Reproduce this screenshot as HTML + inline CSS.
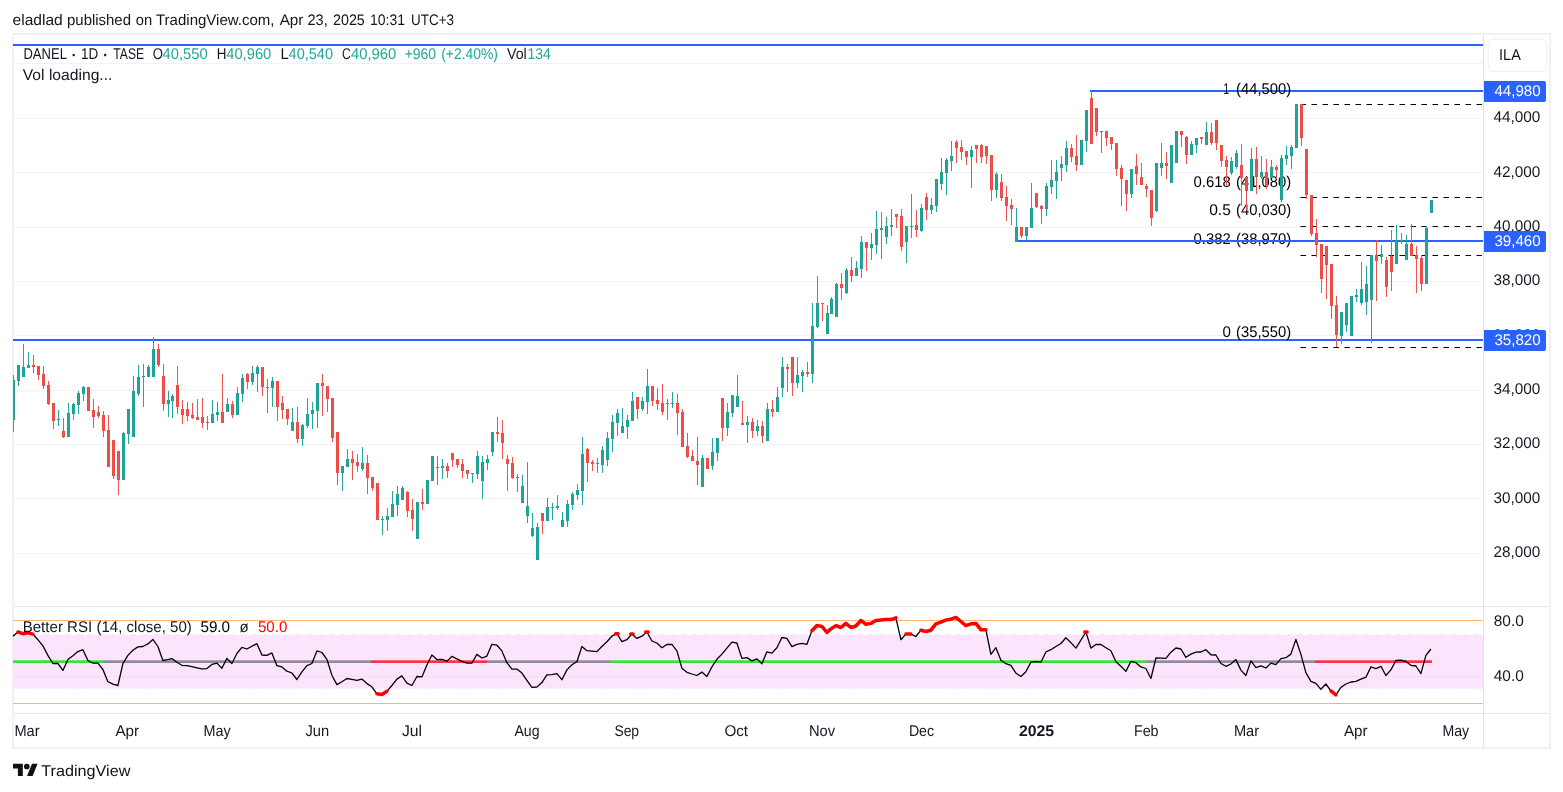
<!DOCTYPE html>
<html lang="en"><head><meta charset="utf-8"><title>DANEL chart</title>
<style>html,body{margin:0;padding:0;background:#fff}
body{width:1563px;height:792px;position:relative;overflow:hidden;font-family:"Liberation Sans", sans-serif}
svg{position:absolute;left:0;top:0}
text{font-family:"Liberation Sans", sans-serif;white-space:pre;text-rendering:geometricPrecision}</style></head><body>
<svg width="1563" height="792" viewBox="0 0 1563 792">
<g shape-rendering="crispEdges">
<rect x="1483" y="34" width="1" height="713" fill="#e1e3ea"/>
<rect x="13" y="606" width="1537" height="1" fill="#e1e3ea"/>
<rect x="13" y="713" width="1537" height="1" fill="#e1e3ea"/>
<rect x="12" y="33" width="1539" height="2" fill="#f0f1f3"/>
<rect x="12" y="747" width="1539" height="2" fill="#f0f1f3"/>
<rect x="12" y="33" width="2" height="716" fill="#f0f1f3"/>
<rect x="1549" y="33" width="2" height="716" fill="#f0f1f3"/>
<rect x="13" y="553" width="1470" height="1" fill="#f1f2f4"/>
<rect x="13" y="498" width="1470" height="1" fill="#f1f2f4"/>
<rect x="13" y="444" width="1470" height="1" fill="#f1f2f4"/>
<rect x="13" y="390" width="1470" height="1" fill="#f1f2f4"/>
<rect x="13" y="335" width="1470" height="1" fill="#f1f2f4"/>
<rect x="13" y="281" width="1470" height="1" fill="#f1f2f4"/>
<rect x="13" y="227" width="1470" height="1" fill="#f1f2f4"/>
<rect x="13" y="172" width="1470" height="1" fill="#f1f2f4"/>
<rect x="13" y="118" width="1470" height="1" fill="#f1f2f4"/>
<rect x="13" y="63" width="1470" height="1" fill="#f1f2f4"/>
<rect x="13" y="44" width="1470" height="2" fill="#2962ff"/>
<rect x="1090" y="90" width="393" height="2" fill="#2962ff"/>
<rect x="13" y="339" width="1470" height="2" fill="#2962ff"/>
</g>
<text x="1223.40" y="93.90" font-size="15.5" textLength="5.60" lengthAdjust="spacingAndGlyphs" fill="#000">1</text><text x="1236.10" y="93.90" font-size="15.5" textLength="55.10" lengthAdjust="spacingAndGlyphs" fill="#000">(44,500)</text><text x="1193.50" y="186.50" font-size="15.5" textLength="37.30" lengthAdjust="spacingAndGlyphs" fill="#000">0.618</text><text x="1236.10" y="186.50" font-size="15.5" textLength="55.10" lengthAdjust="spacingAndGlyphs" fill="#000">(41,080)</text><text x="1209.20" y="214.70" font-size="15.5" textLength="21.60" lengthAdjust="spacingAndGlyphs" fill="#000">0.5</text><text x="1236.10" y="214.70" font-size="15.5" textLength="55.10" lengthAdjust="spacingAndGlyphs" fill="#000">(40,030)</text><text x="1193.50" y="243.50" font-size="15.5" textLength="37.30" lengthAdjust="spacingAndGlyphs" fill="#000">0.382</text><text x="1236.10" y="243.50" font-size="15.5" textLength="55.10" lengthAdjust="spacingAndGlyphs" fill="#000">(38,970)</text><text x="1222.40" y="336.90" font-size="15.5" textLength="8.40" lengthAdjust="spacingAndGlyphs" fill="#000">0</text><text x="1236.10" y="336.90" font-size="15.5" textLength="55.10" lengthAdjust="spacingAndGlyphs" fill="#000">(35,550)</text>
<line x1="1300.5" y1="104.5" x2="1483" y2="104.5" stroke="#000" stroke-width="1" stroke-dasharray="5.5 5.5"/>
<line x1="1300.5" y1="197.5" x2="1483" y2="197.5" stroke="#000" stroke-width="1" stroke-dasharray="5.5 5.5"/>
<line x1="1300.5" y1="226.5" x2="1483" y2="226.5" stroke="#000" stroke-width="1" stroke-dasharray="5.5 5.5"/>
<line x1="1300.5" y1="255.5" x2="1483" y2="255.5" stroke="#000" stroke-width="1" stroke-dasharray="5.5 5.5"/>
<line x1="1300.5" y1="347.5" x2="1483" y2="347.5" stroke="#000" stroke-width="1" stroke-dasharray="5.5 5.5"/>
<g shape-rendering="crispEdges">
<rect x="1016" y="240" width="467" height="2" fill="#2962ff"/>
</g>
<g shape-rendering="crispEdges">
<clipPath id="cp"><rect x="13" y="34" width="1470" height="572"/></clipPath><g clip-path="url(#cp)">
<rect x="12" y="380" width="3" height="40" fill="#1ba093"/>
<rect x="13" y="375" width="1" height="57" fill="#26a69a"/>
<rect x="17" y="365" width="3" height="16" fill="#1ba093"/>
<rect x="18" y="365" width="1" height="21" fill="#26a69a"/>
<rect x="22" y="367" width="3" height="10" fill="#1ba093"/>
<rect x="23" y="344" width="1" height="33" fill="#26a69a"/>
<rect x="27" y="365" width="3" height="3" fill="#1ba093"/>
<rect x="28" y="352" width="1" height="16" fill="#26a69a"/>
<rect x="32" y="365" width="3" height="2" fill="#ec4844"/>
<rect x="33" y="355" width="1" height="18" fill="#ef5350"/>
<rect x="37" y="366" width="3" height="9" fill="#ec4844"/>
<rect x="38" y="366" width="1" height="14" fill="#ef5350"/>
<rect x="42" y="374" width="3" height="12" fill="#ec4844"/>
<rect x="43" y="366" width="1" height="23" fill="#ef5350"/>
<rect x="47" y="385" width="3" height="19" fill="#ec4844"/>
<rect x="48" y="381" width="1" height="24" fill="#ef5350"/>
<rect x="52" y="403" width="3" height="18" fill="#ec4844"/>
<rect x="53" y="403" width="1" height="26" fill="#ef5350"/>
<rect x="57" y="419" width="3" height="1" fill="#1ba093"/>
<rect x="58" y="410" width="1" height="16" fill="#26a69a"/>
<rect x="62" y="431" width="3" height="6" fill="#ec4844"/>
<rect x="63" y="418" width="1" height="20" fill="#ef5350"/>
<rect x="67" y="413" width="3" height="24" fill="#1ba093"/>
<rect x="68" y="403" width="1" height="34" fill="#26a69a"/>
<rect x="72" y="404" width="3" height="10" fill="#1ba093"/>
<rect x="73" y="403" width="1" height="17" fill="#26a69a"/>
<rect x="77" y="393" width="3" height="12" fill="#1ba093"/>
<rect x="78" y="391" width="1" height="23" fill="#26a69a"/>
<rect x="82" y="387" width="3" height="7" fill="#1ba093"/>
<rect x="83" y="386" width="1" height="15" fill="#26a69a"/>
<rect x="87" y="387" width="3" height="24" fill="#ec4844"/>
<rect x="88" y="387" width="1" height="24" fill="#ef5350"/>
<rect x="92" y="410" width="3" height="7" fill="#ec4844"/>
<rect x="93" y="399" width="1" height="29" fill="#ef5350"/>
<rect x="97" y="412" width="3" height="4" fill="#ec4844"/>
<rect x="98" y="406" width="1" height="12" fill="#ef5350"/>
<rect x="102" y="415" width="3" height="16" fill="#ec4844"/>
<rect x="103" y="411" width="1" height="26" fill="#ef5350"/>
<rect x="107" y="430" width="3" height="37" fill="#ec4844"/>
<rect x="108" y="415" width="1" height="52" fill="#ef5350"/>
<rect x="112" y="440" width="3" height="36" fill="#ec4844"/>
<rect x="113" y="440" width="1" height="39" fill="#ef5350"/>
<rect x="117" y="451" width="3" height="29" fill="#ec4844"/>
<rect x="118" y="451" width="1" height="44" fill="#ef5350"/>
<rect x="122" y="433" width="3" height="47" fill="#1ba093"/>
<rect x="123" y="432" width="1" height="48" fill="#26a69a"/>
<rect x="127" y="409" width="3" height="25" fill="#1ba093"/>
<rect x="128" y="409" width="1" height="35" fill="#26a69a"/>
<rect x="132" y="391" width="3" height="46" fill="#1ba093"/>
<rect x="133" y="376" width="1" height="61" fill="#26a69a"/>
<rect x="137" y="377" width="3" height="17" fill="#1ba093"/>
<rect x="138" y="365" width="1" height="31" fill="#26a69a"/>
<rect x="142" y="376" width="3" height="1" fill="#1ba093"/>
<rect x="143" y="364" width="1" height="43" fill="#26a69a"/>
<rect x="147" y="367" width="3" height="10" fill="#1ba093"/>
<rect x="148" y="365" width="1" height="12" fill="#26a69a"/>
<rect x="152" y="349" width="3" height="28" fill="#1ba093"/>
<rect x="153" y="337" width="1" height="40" fill="#26a69a"/>
<rect x="157" y="349" width="3" height="16" fill="#ec4844"/>
<rect x="158" y="344" width="1" height="23" fill="#ef5350"/>
<rect x="162" y="376" width="3" height="28" fill="#ec4844"/>
<rect x="163" y="364" width="1" height="47" fill="#ef5350"/>
<rect x="167" y="400" width="3" height="4" fill="#1ba093"/>
<rect x="168" y="391" width="1" height="26" fill="#26a69a"/>
<rect x="171" y="396" width="3" height="5" fill="#1ba093"/>
<rect x="172" y="394" width="1" height="24" fill="#26a69a"/>
<rect x="176" y="385" width="3" height="22" fill="#ec4844"/>
<rect x="177" y="366" width="1" height="48" fill="#ef5350"/>
<rect x="181" y="409" width="3" height="6" fill="#ec4844"/>
<rect x="182" y="400" width="1" height="24" fill="#ef5350"/>
<rect x="186" y="409" width="3" height="7" fill="#ec4844"/>
<rect x="187" y="402" width="1" height="19" fill="#ef5350"/>
<rect x="191" y="415" width="3" height="3" fill="#ec4844"/>
<rect x="192" y="403" width="1" height="16" fill="#ef5350"/>
<rect x="196" y="417" width="3" height="3" fill="#ec4844"/>
<rect x="197" y="399" width="1" height="21" fill="#ef5350"/>
<rect x="201" y="417" width="3" height="6" fill="#ec4844"/>
<rect x="202" y="398" width="1" height="30" fill="#ef5350"/>
<rect x="206" y="422" width="3" height="1" fill="#ec4844"/>
<rect x="207" y="416" width="1" height="14" fill="#ef5350"/>
<rect x="211" y="414" width="3" height="9" fill="#1ba093"/>
<rect x="212" y="400" width="1" height="23" fill="#26a69a"/>
<rect x="216" y="412" width="3" height="3" fill="#1ba093"/>
<rect x="217" y="402" width="1" height="19" fill="#26a69a"/>
<rect x="221" y="412" width="3" height="11" fill="#ec4844"/>
<rect x="222" y="374" width="1" height="49" fill="#ef5350"/>
<rect x="226" y="404" width="3" height="8" fill="#1ba093"/>
<rect x="227" y="398" width="1" height="14" fill="#26a69a"/>
<rect x="231" y="404" width="3" height="11" fill="#ec4844"/>
<rect x="232" y="401" width="1" height="17" fill="#ef5350"/>
<rect x="236" y="393" width="3" height="22" fill="#1ba093"/>
<rect x="237" y="387" width="1" height="28" fill="#26a69a"/>
<rect x="241" y="378" width="3" height="16" fill="#1ba093"/>
<rect x="242" y="374" width="1" height="28" fill="#26a69a"/>
<rect x="246" y="374" width="3" height="8" fill="#ec4844"/>
<rect x="247" y="373" width="1" height="16" fill="#ef5350"/>
<rect x="251" y="373" width="3" height="9" fill="#1ba093"/>
<rect x="252" y="366" width="1" height="19" fill="#26a69a"/>
<rect x="256" y="367" width="3" height="7" fill="#1ba093"/>
<rect x="257" y="365" width="1" height="27" fill="#26a69a"/>
<rect x="261" y="367" width="3" height="20" fill="#ec4844"/>
<rect x="262" y="367" width="1" height="29" fill="#ef5350"/>
<rect x="266" y="387" width="3" height="1" fill="#1ba093"/>
<rect x="267" y="379" width="1" height="34" fill="#26a69a"/>
<rect x="271" y="381" width="3" height="7" fill="#1ba093"/>
<rect x="272" y="377" width="1" height="30" fill="#26a69a"/>
<rect x="276" y="381" width="3" height="26" fill="#ec4844"/>
<rect x="277" y="381" width="1" height="40" fill="#ef5350"/>
<rect x="281" y="403" width="3" height="7" fill="#ec4844"/>
<rect x="282" y="396" width="1" height="23" fill="#ef5350"/>
<rect x="286" y="409" width="3" height="10" fill="#ec4844"/>
<rect x="287" y="409" width="1" height="16" fill="#ef5350"/>
<rect x="291" y="422" width="3" height="9" fill="#1ba093"/>
<rect x="292" y="408" width="1" height="23" fill="#26a69a"/>
<rect x="296" y="422" width="3" height="17" fill="#ec4844"/>
<rect x="297" y="407" width="1" height="36" fill="#ef5350"/>
<rect x="301" y="425" width="3" height="14" fill="#1ba093"/>
<rect x="302" y="424" width="1" height="22" fill="#26a69a"/>
<rect x="306" y="414" width="3" height="12" fill="#1ba093"/>
<rect x="307" y="398" width="1" height="30" fill="#26a69a"/>
<rect x="311" y="410" width="3" height="4" fill="#1ba093"/>
<rect x="312" y="402" width="1" height="27" fill="#26a69a"/>
<rect x="316" y="383" width="3" height="28" fill="#1ba093"/>
<rect x="317" y="383" width="1" height="45" fill="#26a69a"/>
<rect x="321" y="383" width="3" height="3" fill="#ec4844"/>
<rect x="322" y="374" width="1" height="42" fill="#ef5350"/>
<rect x="326" y="386" width="3" height="13" fill="#ec4844"/>
<rect x="327" y="386" width="1" height="26" fill="#ef5350"/>
<rect x="331" y="398" width="3" height="40" fill="#ec4844"/>
<rect x="332" y="398" width="1" height="44" fill="#ef5350"/>
<rect x="336" y="432" width="3" height="41" fill="#ec4844"/>
<rect x="337" y="432" width="1" height="53" fill="#ef5350"/>
<rect x="341" y="466" width="3" height="7" fill="#1ba093"/>
<rect x="342" y="466" width="1" height="25" fill="#26a69a"/>
<rect x="346" y="459" width="3" height="8" fill="#1ba093"/>
<rect x="347" y="449" width="1" height="18" fill="#26a69a"/>
<rect x="351" y="459" width="3" height="4" fill="#ec4844"/>
<rect x="352" y="451" width="1" height="29" fill="#ef5350"/>
<rect x="356" y="462" width="3" height="4" fill="#ec4844"/>
<rect x="357" y="454" width="1" height="18" fill="#ef5350"/>
<rect x="361" y="463" width="3" height="6" fill="#1ba093"/>
<rect x="362" y="447" width="1" height="24" fill="#26a69a"/>
<rect x="366" y="463" width="3" height="15" fill="#ec4844"/>
<rect x="367" y="455" width="1" height="39" fill="#ef5350"/>
<rect x="371" y="477" width="3" height="11" fill="#ec4844"/>
<rect x="372" y="477" width="1" height="14" fill="#ef5350"/>
<rect x="376" y="483" width="3" height="37" fill="#ec4844"/>
<rect x="377" y="483" width="1" height="37" fill="#ef5350"/>
<rect x="381" y="519" width="3" height="1" fill="#1ba093"/>
<rect x="382" y="516" width="1" height="19" fill="#26a69a"/>
<rect x="386" y="516" width="3" height="4" fill="#1ba093"/>
<rect x="387" y="508" width="1" height="23" fill="#26a69a"/>
<rect x="391" y="504" width="3" height="13" fill="#1ba093"/>
<rect x="392" y="491" width="1" height="26" fill="#26a69a"/>
<rect x="396" y="494" width="3" height="11" fill="#1ba093"/>
<rect x="397" y="486" width="1" height="30" fill="#26a69a"/>
<rect x="401" y="488" width="3" height="12" fill="#1ba093"/>
<rect x="402" y="486" width="1" height="14" fill="#26a69a"/>
<rect x="406" y="492" width="3" height="19" fill="#ec4844"/>
<rect x="407" y="491" width="1" height="26" fill="#ef5350"/>
<rect x="411" y="510" width="3" height="9" fill="#ec4844"/>
<rect x="412" y="499" width="1" height="32" fill="#ef5350"/>
<rect x="416" y="502" width="3" height="37" fill="#1ba093"/>
<rect x="417" y="502" width="1" height="37" fill="#26a69a"/>
<rect x="421" y="502" width="3" height="2" fill="#ec4844"/>
<rect x="422" y="489" width="1" height="21" fill="#ef5350"/>
<rect x="426" y="480" width="3" height="24" fill="#1ba093"/>
<rect x="427" y="480" width="1" height="24" fill="#26a69a"/>
<rect x="431" y="456" width="3" height="25" fill="#1ba093"/>
<rect x="432" y="456" width="1" height="25" fill="#26a69a"/>
<rect x="436" y="467" width="3" height="1" fill="#1ba093"/>
<rect x="437" y="456" width="1" height="29" fill="#26a69a"/>
<rect x="441" y="466" width="3" height="2" fill="#1ba093"/>
<rect x="442" y="459" width="1" height="20" fill="#26a69a"/>
<rect x="446" y="466" width="3" height="5" fill="#ec4844"/>
<rect x="447" y="463" width="1" height="15" fill="#ef5350"/>
<rect x="451" y="453" width="3" height="7" fill="#ec4844"/>
<rect x="452" y="453" width="1" height="14" fill="#ef5350"/>
<rect x="456" y="459" width="3" height="6" fill="#ec4844"/>
<rect x="457" y="459" width="1" height="9" fill="#ef5350"/>
<rect x="461" y="464" width="3" height="7" fill="#ec4844"/>
<rect x="462" y="459" width="1" height="19" fill="#ef5350"/>
<rect x="466" y="470" width="3" height="4" fill="#ec4844"/>
<rect x="467" y="470" width="1" height="9" fill="#ef5350"/>
<rect x="471" y="473" width="3" height="1" fill="#1ba093"/>
<rect x="472" y="473" width="1" height="10" fill="#26a69a"/>
<rect x="476" y="456" width="3" height="18" fill="#1ba093"/>
<rect x="477" y="451" width="1" height="28" fill="#26a69a"/>
<rect x="481" y="462" width="3" height="19" fill="#1ba093"/>
<rect x="482" y="456" width="1" height="43" fill="#26a69a"/>
<rect x="486" y="459" width="3" height="4" fill="#1ba093"/>
<rect x="487" y="455" width="1" height="15" fill="#26a69a"/>
<rect x="491" y="432" width="3" height="20" fill="#1ba093"/>
<rect x="492" y="432" width="1" height="24" fill="#26a69a"/>
<rect x="496" y="432" width="3" height="2" fill="#ec4844"/>
<rect x="497" y="417" width="1" height="25" fill="#ef5350"/>
<rect x="501" y="433" width="3" height="10" fill="#ec4844"/>
<rect x="502" y="420" width="1" height="39" fill="#ef5350"/>
<rect x="506" y="459" width="3" height="5" fill="#ec4844"/>
<rect x="507" y="455" width="1" height="36" fill="#ef5350"/>
<rect x="511" y="463" width="3" height="15" fill="#ec4844"/>
<rect x="512" y="457" width="1" height="22" fill="#ef5350"/>
<rect x="516" y="477" width="3" height="1" fill="#1ba093"/>
<rect x="517" y="474" width="1" height="18" fill="#26a69a"/>
<rect x="521" y="486" width="3" height="17" fill="#1ba093"/>
<rect x="522" y="475" width="1" height="28" fill="#26a69a"/>
<rect x="526" y="506" width="3" height="10" fill="#1ba093"/>
<rect x="527" y="462" width="1" height="61" fill="#26a69a"/>
<rect x="531" y="528" width="3" height="8" fill="#1ba093"/>
<rect x="532" y="513" width="1" height="24" fill="#26a69a"/>
<rect x="536" y="527" width="3" height="33" fill="#1ba093"/>
<rect x="537" y="523" width="1" height="37" fill="#26a69a"/>
<rect x="541" y="513" width="3" height="8" fill="#ec4844"/>
<rect x="542" y="513" width="1" height="21" fill="#ef5350"/>
<rect x="546" y="507" width="3" height="14" fill="#1ba093"/>
<rect x="547" y="498" width="1" height="23" fill="#26a69a"/>
<rect x="551" y="507" width="3" height="1" fill="#1ba093"/>
<rect x="552" y="503" width="1" height="17" fill="#26a69a"/>
<rect x="556" y="506" width="3" height="2" fill="#1ba093"/>
<rect x="557" y="495" width="1" height="15" fill="#26a69a"/>
<rect x="561" y="520" width="3" height="7" fill="#1ba093"/>
<rect x="562" y="512" width="1" height="15" fill="#26a69a"/>
<rect x="566" y="504" width="3" height="17" fill="#1ba093"/>
<rect x="567" y="500" width="1" height="27" fill="#26a69a"/>
<rect x="571" y="494" width="3" height="11" fill="#1ba093"/>
<rect x="572" y="492" width="1" height="18" fill="#26a69a"/>
<rect x="576" y="490" width="3" height="5" fill="#1ba093"/>
<rect x="577" y="484" width="1" height="16" fill="#26a69a"/>
<rect x="581" y="454" width="3" height="37" fill="#1ba093"/>
<rect x="582" y="437" width="1" height="68" fill="#26a69a"/>
<rect x="586" y="449" width="3" height="14" fill="#ec4844"/>
<rect x="587" y="448" width="1" height="34" fill="#ef5350"/>
<rect x="591" y="462" width="3" height="2" fill="#ec4844"/>
<rect x="592" y="460" width="1" height="11" fill="#ef5350"/>
<rect x="596" y="463" width="3" height="1" fill="#1ba093"/>
<rect x="597" y="458" width="1" height="15" fill="#26a69a"/>
<rect x="601" y="450" width="3" height="15" fill="#1ba093"/>
<rect x="602" y="446" width="1" height="27" fill="#26a69a"/>
<rect x="606" y="438" width="3" height="22" fill="#1ba093"/>
<rect x="607" y="432" width="1" height="34" fill="#26a69a"/>
<rect x="611" y="422" width="3" height="17" fill="#1ba093"/>
<rect x="612" y="415" width="1" height="37" fill="#26a69a"/>
<rect x="616" y="413" width="3" height="10" fill="#1ba093"/>
<rect x="617" y="409" width="1" height="27" fill="#26a69a"/>
<rect x="621" y="426" width="3" height="7" fill="#1ba093"/>
<rect x="622" y="408" width="1" height="25" fill="#26a69a"/>
<rect x="626" y="420" width="3" height="7" fill="#1ba093"/>
<rect x="627" y="415" width="1" height="24" fill="#26a69a"/>
<rect x="631" y="401" width="3" height="20" fill="#1ba093"/>
<rect x="632" y="392" width="1" height="29" fill="#26a69a"/>
<rect x="636" y="397" width="3" height="12" fill="#ec4844"/>
<rect x="637" y="397" width="1" height="22" fill="#ef5350"/>
<rect x="641" y="401" width="3" height="8" fill="#1ba093"/>
<rect x="642" y="397" width="1" height="14" fill="#26a69a"/>
<rect x="646" y="386" width="3" height="16" fill="#1ba093"/>
<rect x="647" y="369" width="1" height="45" fill="#26a69a"/>
<rect x="651" y="386" width="3" height="15" fill="#ec4844"/>
<rect x="652" y="386" width="1" height="20" fill="#ef5350"/>
<rect x="656" y="400" width="3" height="4" fill="#ec4844"/>
<rect x="657" y="388" width="1" height="22" fill="#ef5350"/>
<rect x="661" y="403" width="3" height="9" fill="#ec4844"/>
<rect x="662" y="384" width="1" height="31" fill="#ef5350"/>
<rect x="666" y="403" width="3" height="1" fill="#ec4844"/>
<rect x="667" y="399" width="1" height="21" fill="#ef5350"/>
<rect x="671" y="403" width="3" height="1" fill="#1ba093"/>
<rect x="672" y="392" width="1" height="16" fill="#26a69a"/>
<rect x="676" y="403" width="3" height="10" fill="#ec4844"/>
<rect x="677" y="394" width="1" height="41" fill="#ef5350"/>
<rect x="681" y="412" width="3" height="35" fill="#ec4844"/>
<rect x="682" y="409" width="1" height="38" fill="#ef5350"/>
<rect x="686" y="446" width="3" height="11" fill="#ec4844"/>
<rect x="687" y="433" width="1" height="25" fill="#ef5350"/>
<rect x="691" y="456" width="3" height="5" fill="#ec4844"/>
<rect x="692" y="450" width="1" height="11" fill="#ef5350"/>
<rect x="696" y="461" width="3" height="4" fill="#ec4844"/>
<rect x="697" y="437" width="1" height="48" fill="#ef5350"/>
<rect x="701" y="458" width="3" height="29" fill="#1ba093"/>
<rect x="702" y="455" width="1" height="32" fill="#26a69a"/>
<rect x="706" y="458" width="3" height="11" fill="#ec4844"/>
<rect x="707" y="458" width="1" height="11" fill="#ef5350"/>
<rect x="711" y="452" width="3" height="14" fill="#1ba093"/>
<rect x="712" y="438" width="1" height="32" fill="#26a69a"/>
<rect x="716" y="438" width="3" height="15" fill="#1ba093"/>
<rect x="717" y="438" width="1" height="23" fill="#26a69a"/>
<rect x="721" y="398" width="3" height="30" fill="#ec4844"/>
<rect x="722" y="398" width="1" height="43" fill="#ef5350"/>
<rect x="726" y="412" width="3" height="16" fill="#1ba093"/>
<rect x="727" y="403" width="1" height="33" fill="#26a69a"/>
<rect x="731" y="395" width="3" height="18" fill="#1ba093"/>
<rect x="732" y="395" width="1" height="22" fill="#26a69a"/>
<rect x="736" y="396" width="3" height="11" fill="#1ba093"/>
<rect x="737" y="375" width="1" height="32" fill="#26a69a"/>
<rect x="741" y="423" width="3" height="2" fill="#ec4844"/>
<rect x="742" y="401" width="1" height="24" fill="#ef5350"/>
<rect x="746" y="422" width="3" height="3" fill="#1ba093"/>
<rect x="747" y="416" width="1" height="27" fill="#26a69a"/>
<rect x="751" y="422" width="3" height="9" fill="#ec4844"/>
<rect x="752" y="418" width="1" height="20" fill="#ef5350"/>
<rect x="756" y="426" width="3" height="5" fill="#1ba093"/>
<rect x="757" y="420" width="1" height="16" fill="#26a69a"/>
<rect x="761" y="426" width="3" height="10" fill="#ec4844"/>
<rect x="762" y="421" width="1" height="22" fill="#ef5350"/>
<rect x="766" y="409" width="3" height="32" fill="#1ba093"/>
<rect x="767" y="403" width="1" height="38" fill="#26a69a"/>
<rect x="771" y="409" width="3" height="3" fill="#ec4844"/>
<rect x="772" y="400" width="1" height="17" fill="#ef5350"/>
<rect x="776" y="397" width="3" height="15" fill="#1ba093"/>
<rect x="777" y="387" width="1" height="25" fill="#26a69a"/>
<rect x="781" y="367" width="3" height="21" fill="#1ba093"/>
<rect x="782" y="357" width="1" height="40" fill="#26a69a"/>
<rect x="786" y="367" width="3" height="2" fill="#ec4844"/>
<rect x="787" y="364" width="1" height="28" fill="#ef5350"/>
<rect x="791" y="357" width="3" height="26" fill="#ec4844"/>
<rect x="792" y="357" width="1" height="39" fill="#ef5350"/>
<rect x="796" y="375" width="3" height="8" fill="#1ba093"/>
<rect x="797" y="357" width="1" height="31" fill="#26a69a"/>
<rect x="801" y="372" width="3" height="4" fill="#1ba093"/>
<rect x="802" y="370" width="1" height="22" fill="#26a69a"/>
<rect x="806" y="372" width="3" height="2" fill="#ec4844"/>
<rect x="807" y="362" width="1" height="15" fill="#ef5350"/>
<rect x="811" y="326" width="3" height="48" fill="#1ba093"/>
<rect x="812" y="303" width="1" height="80" fill="#26a69a"/>
<rect x="816" y="303" width="3" height="24" fill="#1ba093"/>
<rect x="817" y="276" width="1" height="52" fill="#26a69a"/>
<rect x="821" y="303" width="3" height="1" fill="#ec4844"/>
<rect x="822" y="303" width="1" height="18" fill="#ef5350"/>
<rect x="826" y="313" width="3" height="21" fill="#1ba093"/>
<rect x="827" y="305" width="1" height="29" fill="#26a69a"/>
<rect x="830" y="299" width="3" height="15" fill="#1ba093"/>
<rect x="831" y="297" width="1" height="17" fill="#26a69a"/>
<rect x="835" y="284" width="3" height="33" fill="#1ba093"/>
<rect x="836" y="283" width="1" height="34" fill="#26a69a"/>
<rect x="840" y="284" width="3" height="4" fill="#ec4844"/>
<rect x="841" y="273" width="1" height="27" fill="#ef5350"/>
<rect x="845" y="270" width="3" height="23" fill="#1ba093"/>
<rect x="846" y="268" width="1" height="26" fill="#26a69a"/>
<rect x="850" y="270" width="3" height="6" fill="#ec4844"/>
<rect x="851" y="257" width="1" height="25" fill="#ef5350"/>
<rect x="855" y="268" width="3" height="8" fill="#1ba093"/>
<rect x="856" y="261" width="1" height="15" fill="#26a69a"/>
<rect x="860" y="242" width="3" height="27" fill="#1ba093"/>
<rect x="861" y="236" width="1" height="42" fill="#26a69a"/>
<rect x="865" y="242" width="3" height="6" fill="#ec4844"/>
<rect x="866" y="242" width="1" height="29" fill="#ef5350"/>
<rect x="870" y="244" width="3" height="4" fill="#1ba093"/>
<rect x="871" y="233" width="1" height="27" fill="#26a69a"/>
<rect x="875" y="229" width="3" height="16" fill="#1ba093"/>
<rect x="876" y="211" width="1" height="43" fill="#26a69a"/>
<rect x="880" y="228" width="3" height="2" fill="#1ba093"/>
<rect x="881" y="212" width="1" height="47" fill="#26a69a"/>
<rect x="885" y="226" width="3" height="11" fill="#1ba093"/>
<rect x="886" y="217" width="1" height="27" fill="#26a69a"/>
<rect x="890" y="225" width="3" height="2" fill="#1ba093"/>
<rect x="891" y="209" width="1" height="27" fill="#26a69a"/>
<rect x="895" y="214" width="3" height="3" fill="#ec4844"/>
<rect x="896" y="214" width="1" height="14" fill="#ef5350"/>
<rect x="900" y="216" width="3" height="31" fill="#ec4844"/>
<rect x="901" y="209" width="1" height="42" fill="#ef5350"/>
<rect x="905" y="226" width="3" height="16" fill="#1ba093"/>
<rect x="906" y="226" width="1" height="37" fill="#26a69a"/>
<rect x="910" y="226" width="3" height="1" fill="#1ba093"/>
<rect x="911" y="194" width="1" height="44" fill="#26a69a"/>
<rect x="915" y="225" width="3" height="5" fill="#ec4844"/>
<rect x="916" y="210" width="1" height="27" fill="#ef5350"/>
<rect x="920" y="208" width="3" height="23" fill="#1ba093"/>
<rect x="921" y="204" width="1" height="28" fill="#26a69a"/>
<rect x="925" y="197" width="3" height="13" fill="#ec4844"/>
<rect x="926" y="193" width="1" height="27" fill="#ef5350"/>
<rect x="930" y="205" width="3" height="5" fill="#1ba093"/>
<rect x="931" y="198" width="1" height="16" fill="#26a69a"/>
<rect x="935" y="179" width="3" height="27" fill="#1ba093"/>
<rect x="936" y="179" width="1" height="33" fill="#26a69a"/>
<rect x="940" y="172" width="3" height="12" fill="#1ba093"/>
<rect x="941" y="158" width="1" height="32" fill="#26a69a"/>
<rect x="945" y="160" width="3" height="13" fill="#1ba093"/>
<rect x="946" y="158" width="1" height="37" fill="#26a69a"/>
<rect x="950" y="156" width="3" height="5" fill="#1ba093"/>
<rect x="951" y="141" width="1" height="30" fill="#26a69a"/>
<rect x="955" y="142" width="3" height="6" fill="#ec4844"/>
<rect x="956" y="140" width="1" height="23" fill="#ef5350"/>
<rect x="960" y="147" width="3" height="5" fill="#ec4844"/>
<rect x="961" y="140" width="1" height="20" fill="#ef5350"/>
<rect x="965" y="151" width="3" height="6" fill="#ec4844"/>
<rect x="966" y="151" width="1" height="14" fill="#ef5350"/>
<rect x="970" y="150" width="3" height="7" fill="#1ba093"/>
<rect x="971" y="146" width="1" height="42" fill="#26a69a"/>
<rect x="975" y="145" width="3" height="4" fill="#ec4844"/>
<rect x="976" y="145" width="1" height="18" fill="#ef5350"/>
<rect x="980" y="145" width="3" height="12" fill="#ec4844"/>
<rect x="981" y="144" width="1" height="19" fill="#ef5350"/>
<rect x="985" y="146" width="3" height="10" fill="#ec4844"/>
<rect x="986" y="146" width="1" height="18" fill="#ef5350"/>
<rect x="990" y="155" width="3" height="35" fill="#ec4844"/>
<rect x="991" y="155" width="1" height="46" fill="#ef5350"/>
<rect x="995" y="174" width="3" height="16" fill="#1ba093"/>
<rect x="996" y="172" width="1" height="26" fill="#26a69a"/>
<rect x="1000" y="182" width="3" height="16" fill="#ec4844"/>
<rect x="1001" y="174" width="1" height="27" fill="#ef5350"/>
<rect x="1005" y="197" width="3" height="9" fill="#ec4844"/>
<rect x="1006" y="186" width="1" height="35" fill="#ef5350"/>
<rect x="1010" y="205" width="3" height="4" fill="#ec4844"/>
<rect x="1011" y="199" width="1" height="26" fill="#ef5350"/>
<rect x="1015" y="227" width="3" height="15" fill="#1ba093"/>
<rect x="1016" y="208" width="1" height="34" fill="#26a69a"/>
<rect x="1020" y="227" width="3" height="9" fill="#ec4844"/>
<rect x="1021" y="227" width="1" height="11" fill="#ef5350"/>
<rect x="1025" y="227" width="3" height="9" fill="#1ba093"/>
<rect x="1026" y="227" width="1" height="14" fill="#26a69a"/>
<rect x="1030" y="208" width="3" height="20" fill="#1ba093"/>
<rect x="1031" y="183" width="1" height="45" fill="#26a69a"/>
<rect x="1035" y="193" width="3" height="14" fill="#ec4844"/>
<rect x="1036" y="193" width="1" height="15" fill="#ef5350"/>
<rect x="1040" y="206" width="3" height="3" fill="#ec4844"/>
<rect x="1041" y="205" width="1" height="19" fill="#ef5350"/>
<rect x="1045" y="186" width="3" height="23" fill="#1ba093"/>
<rect x="1046" y="183" width="1" height="33" fill="#26a69a"/>
<rect x="1050" y="180" width="3" height="7" fill="#1ba093"/>
<rect x="1051" y="160" width="1" height="34" fill="#26a69a"/>
<rect x="1055" y="172" width="3" height="9" fill="#1ba093"/>
<rect x="1056" y="160" width="1" height="39" fill="#26a69a"/>
<rect x="1060" y="164" width="3" height="4" fill="#1ba093"/>
<rect x="1061" y="156" width="1" height="25" fill="#26a69a"/>
<rect x="1065" y="148" width="3" height="17" fill="#1ba093"/>
<rect x="1066" y="141" width="1" height="31" fill="#26a69a"/>
<rect x="1070" y="148" width="3" height="9" fill="#ec4844"/>
<rect x="1071" y="144" width="1" height="18" fill="#ef5350"/>
<rect x="1075" y="156" width="3" height="9" fill="#ec4844"/>
<rect x="1076" y="135" width="1" height="36" fill="#ef5350"/>
<rect x="1080" y="140" width="3" height="25" fill="#1ba093"/>
<rect x="1081" y="140" width="1" height="25" fill="#26a69a"/>
<rect x="1085" y="110" width="3" height="31" fill="#1ba093"/>
<rect x="1086" y="110" width="1" height="42" fill="#26a69a"/>
<rect x="1090" y="98" width="3" height="46" fill="#ec4844"/>
<rect x="1091" y="90" width="1" height="54" fill="#ef5350"/>
<rect x="1095" y="108" width="3" height="24" fill="#ec4844"/>
<rect x="1096" y="108" width="1" height="28" fill="#ef5350"/>
<rect x="1100" y="131" width="3" height="1" fill="#1ba093"/>
<rect x="1101" y="131" width="1" height="22" fill="#26a69a"/>
<rect x="1105" y="131" width="3" height="7" fill="#ec4844"/>
<rect x="1106" y="131" width="1" height="15" fill="#ef5350"/>
<rect x="1110" y="137" width="3" height="7" fill="#ec4844"/>
<rect x="1111" y="137" width="1" height="13" fill="#ef5350"/>
<rect x="1115" y="143" width="3" height="26" fill="#ec4844"/>
<rect x="1116" y="143" width="1" height="33" fill="#ef5350"/>
<rect x="1120" y="168" width="3" height="11" fill="#ec4844"/>
<rect x="1121" y="165" width="1" height="41" fill="#ef5350"/>
<rect x="1125" y="180" width="3" height="14" fill="#ec4844"/>
<rect x="1126" y="180" width="1" height="31" fill="#ef5350"/>
<rect x="1130" y="169" width="3" height="25" fill="#1ba093"/>
<rect x="1131" y="169" width="1" height="29" fill="#26a69a"/>
<rect x="1135" y="166" width="3" height="8" fill="#ec4844"/>
<rect x="1136" y="154" width="1" height="31" fill="#ef5350"/>
<rect x="1140" y="177" width="3" height="8" fill="#ec4844"/>
<rect x="1141" y="163" width="1" height="22" fill="#ef5350"/>
<rect x="1145" y="186" width="3" height="3" fill="#ec4844"/>
<rect x="1146" y="184" width="1" height="13" fill="#ef5350"/>
<rect x="1150" y="190" width="3" height="28" fill="#ec4844"/>
<rect x="1151" y="190" width="1" height="36" fill="#ef5350"/>
<rect x="1155" y="163" width="3" height="48" fill="#1ba093"/>
<rect x="1156" y="163" width="1" height="49" fill="#26a69a"/>
<rect x="1160" y="163" width="3" height="5" fill="#1ba093"/>
<rect x="1161" y="143" width="1" height="33" fill="#26a69a"/>
<rect x="1165" y="163" width="3" height="3" fill="#ec4844"/>
<rect x="1166" y="152" width="1" height="27" fill="#ef5350"/>
<rect x="1170" y="145" width="3" height="38" fill="#1ba093"/>
<rect x="1171" y="145" width="1" height="38" fill="#26a69a"/>
<rect x="1175" y="131" width="3" height="32" fill="#1ba093"/>
<rect x="1176" y="131" width="1" height="32" fill="#26a69a"/>
<rect x="1180" y="131" width="3" height="4" fill="#ec4844"/>
<rect x="1181" y="131" width="1" height="16" fill="#ef5350"/>
<rect x="1185" y="137" width="3" height="18" fill="#ec4844"/>
<rect x="1186" y="136" width="1" height="28" fill="#ef5350"/>
<rect x="1190" y="144" width="3" height="11" fill="#1ba093"/>
<rect x="1191" y="141" width="1" height="14" fill="#26a69a"/>
<rect x="1195" y="138" width="3" height="7" fill="#1ba093"/>
<rect x="1196" y="138" width="1" height="15" fill="#26a69a"/>
<rect x="1200" y="137" width="3" height="2" fill="#ec4844"/>
<rect x="1201" y="137" width="1" height="7" fill="#ef5350"/>
<rect x="1205" y="132" width="3" height="13" fill="#1ba093"/>
<rect x="1206" y="122" width="1" height="23" fill="#26a69a"/>
<rect x="1210" y="132" width="3" height="11" fill="#ec4844"/>
<rect x="1211" y="123" width="1" height="22" fill="#ef5350"/>
<rect x="1215" y="120" width="3" height="23" fill="#ec4844"/>
<rect x="1216" y="120" width="1" height="30" fill="#ef5350"/>
<rect x="1220" y="145" width="3" height="16" fill="#ec4844"/>
<rect x="1221" y="145" width="1" height="22" fill="#ef5350"/>
<rect x="1225" y="160" width="3" height="7" fill="#ec4844"/>
<rect x="1226" y="156" width="1" height="30" fill="#ef5350"/>
<rect x="1230" y="161" width="3" height="12" fill="#1ba093"/>
<rect x="1231" y="157" width="1" height="18" fill="#26a69a"/>
<rect x="1235" y="153" width="3" height="14" fill="#1ba093"/>
<rect x="1236" y="150" width="1" height="19" fill="#26a69a"/>
<rect x="1240" y="165" width="3" height="13" fill="#ec4844"/>
<rect x="1241" y="144" width="1" height="62" fill="#ef5350"/>
<rect x="1245" y="177" width="3" height="14" fill="#ec4844"/>
<rect x="1246" y="177" width="1" height="33" fill="#ef5350"/>
<rect x="1250" y="159" width="3" height="32" fill="#1ba093"/>
<rect x="1251" y="148" width="1" height="43" fill="#26a69a"/>
<rect x="1255" y="159" width="3" height="18" fill="#ec4844"/>
<rect x="1256" y="147" width="1" height="47" fill="#ef5350"/>
<rect x="1260" y="172" width="3" height="5" fill="#1ba093"/>
<rect x="1261" y="156" width="1" height="23" fill="#26a69a"/>
<rect x="1265" y="172" width="3" height="14" fill="#ec4844"/>
<rect x="1266" y="159" width="1" height="30" fill="#ef5350"/>
<rect x="1270" y="167" width="3" height="11" fill="#1ba093"/>
<rect x="1271" y="160" width="1" height="18" fill="#26a69a"/>
<rect x="1275" y="167" width="3" height="3" fill="#ec4844"/>
<rect x="1276" y="165" width="1" height="14" fill="#ef5350"/>
<rect x="1280" y="158" width="3" height="42" fill="#1ba093"/>
<rect x="1281" y="155" width="1" height="47" fill="#26a69a"/>
<rect x="1285" y="155" width="3" height="4" fill="#1ba093"/>
<rect x="1286" y="146" width="1" height="19" fill="#26a69a"/>
<rect x="1290" y="147" width="3" height="9" fill="#1ba093"/>
<rect x="1291" y="145" width="1" height="24" fill="#26a69a"/>
<rect x="1295" y="104" width="3" height="44" fill="#1ba093"/>
<rect x="1296" y="104" width="1" height="44" fill="#26a69a"/>
<rect x="1300" y="104" width="3" height="34" fill="#ec4844"/>
<rect x="1301" y="104" width="1" height="42" fill="#ef5350"/>
<rect x="1305" y="149" width="3" height="46" fill="#ec4844"/>
<rect x="1306" y="149" width="1" height="50" fill="#ef5350"/>
<rect x="1310" y="195" width="3" height="39" fill="#ec4844"/>
<rect x="1311" y="195" width="1" height="41" fill="#ef5350"/>
<rect x="1315" y="233" width="3" height="12" fill="#ec4844"/>
<rect x="1316" y="219" width="1" height="38" fill="#ef5350"/>
<rect x="1320" y="244" width="3" height="35" fill="#ec4844"/>
<rect x="1321" y="244" width="1" height="49" fill="#ef5350"/>
<rect x="1325" y="246" width="3" height="19" fill="#ec4844"/>
<rect x="1326" y="246" width="1" height="53" fill="#ef5350"/>
<rect x="1330" y="264" width="3" height="42" fill="#ec4844"/>
<rect x="1331" y="264" width="1" height="55" fill="#ef5350"/>
<rect x="1335" y="305" width="3" height="30" fill="#ec4844"/>
<rect x="1336" y="296" width="1" height="51" fill="#ef5350"/>
<rect x="1340" y="312" width="3" height="24" fill="#1ba093"/>
<rect x="1341" y="312" width="1" height="32" fill="#26a69a"/>
<rect x="1345" y="303" width="3" height="22" fill="#1ba093"/>
<rect x="1346" y="303" width="1" height="29" fill="#26a69a"/>
<rect x="1350" y="296" width="3" height="40" fill="#1ba093"/>
<rect x="1351" y="296" width="1" height="40" fill="#26a69a"/>
<rect x="1355" y="295" width="3" height="2" fill="#1ba093"/>
<rect x="1356" y="289" width="1" height="13" fill="#26a69a"/>
<rect x="1360" y="289" width="3" height="14" fill="#1ba093"/>
<rect x="1361" y="262" width="1" height="43" fill="#26a69a"/>
<rect x="1365" y="284" width="3" height="18" fill="#1ba093"/>
<rect x="1366" y="266" width="1" height="49" fill="#26a69a"/>
<rect x="1370" y="255" width="3" height="45" fill="#1ba093"/>
<rect x="1371" y="255" width="1" height="88" fill="#26a69a"/>
<rect x="1375" y="255" width="3" height="6" fill="#ec4844"/>
<rect x="1376" y="240" width="1" height="61" fill="#ef5350"/>
<rect x="1380" y="254" width="3" height="3" fill="#1ba093"/>
<rect x="1381" y="245" width="1" height="19" fill="#26a69a"/>
<rect x="1385" y="260" width="3" height="27" fill="#ec4844"/>
<rect x="1386" y="257" width="1" height="40" fill="#ef5350"/>
<rect x="1390" y="256" width="3" height="16" fill="#ec4844"/>
<rect x="1391" y="230" width="1" height="61" fill="#ef5350"/>
<rect x="1395" y="241" width="3" height="23" fill="#1ba093"/>
<rect x="1396" y="225" width="1" height="39" fill="#26a69a"/>
<rect x="1400" y="240" width="3" height="1" fill="#1ba093"/>
<rect x="1401" y="233" width="1" height="11" fill="#26a69a"/>
<rect x="1405" y="244" width="3" height="16" fill="#1ba093"/>
<rect x="1406" y="235" width="1" height="25" fill="#26a69a"/>
<rect x="1410" y="244" width="3" height="12" fill="#ec4844"/>
<rect x="1411" y="224" width="1" height="32" fill="#ef5350"/>
<rect x="1415" y="255" width="3" height="4" fill="#ec4844"/>
<rect x="1416" y="246" width="1" height="47" fill="#ef5350"/>
<rect x="1420" y="258" width="3" height="26" fill="#ec4844"/>
<rect x="1421" y="255" width="1" height="36" fill="#ef5350"/>
<rect x="1425" y="228" width="3" height="56" fill="#1ba093"/>
<rect x="1426" y="226" width="1" height="58" fill="#26a69a"/>
<rect x="1430" y="200" width="3" height="13" fill="#1ba093"/>
<rect x="1431" y="200" width="1" height="13" fill="#26a69a"/>
</g>
</g>
<g shape-rendering="crispEdges">
<rect x="13" y="635" width="1470" height="53.7" fill="#fde4fd" shape-rendering="auto"/>
<line x1="13" y1="634.5" x2="1483" y2="634.5" stroke="#fde4fd" stroke-width="1" stroke-dasharray="5.5 5.5" stroke-dashoffset="3" shape-rendering="auto"/>
<line x1="13" y1="689.2" x2="1483" y2="689.2" stroke="#fde4fd" stroke-width="1" stroke-dasharray="5.5 5.5" stroke-dashoffset="3" shape-rendering="auto" opacity="0.5"/>
<rect x="13" y="676" width="1470" height="1" fill="#f3dcf6"/>
<rect x="13" y="620" width="1470" height="1" fill="#ffb570"/>
<rect x="13" y="703" width="1470" height="1" fill="#ffb570"/>
</g>
<rect x="13" y="660.3" width="90" height="2.7" fill="#33e636"/>
<rect x="103" y="660.3" width="268" height="2.7" fill="#8f8c9c"/>
<rect x="371" y="660.3" width="116" height="2.7" fill="#ff3347"/>
<rect x="487" y="660.3" width="124" height="2.7" fill="#8f8c9c"/>
<rect x="611" y="660.3" width="535" height="2.7" fill="#33e636"/>
<rect x="1146" y="660.3" width="169" height="2.7" fill="#8f8c9c"/>
<rect x="1315" y="660.3" width="117" height="2.7" fill="#ff3347"/>
<polyline fill="none" stroke="#000" stroke-width="1.3" stroke-linejoin="round" points="12.9,636.2 17.9,632.0 22.9,633.7 27.9,632.8 32.9,634.1 37.9,639.7 42.9,645.8 47.9,655.4 52.9,663.5 57.9,663.5 62.9,670.4 67.9,659.6 72.9,655.8 77.9,651.6 82.9,649.7 87.9,660.5 92.9,663.1 97.9,663.1 102.9,669.5 107.9,681.7 112.9,684.2 117.9,685.5 122.9,663.7 127.9,655.4 132.9,650.3 137.9,646.9 142.9,646.5 147.9,643.9 152.9,639.4 157.9,646.5 162.9,660.5 167.9,659.6 171.9,658.6 176.9,662.2 181.9,665.3 186.9,665.7 191.9,666.7 196.9,667.8 201.9,668.9 206.9,668.6 211.9,664.4 216.9,663.1 221.9,668.2 226.9,658.4 231.9,663.5 236.9,653.5 241.9,647.4 246.9,649.0 251.9,646.2 256.9,643.7 261.9,655.0 266.9,655.4 271.9,652.9 276.9,665.7 281.9,666.9 286.9,671.2 291.9,673.0 296.9,679.5 301.9,671.8 306.9,665.7 311.9,663.5 316.9,650.9 321.9,652.5 326.9,659.3 331.9,675.3 336.9,684.6 341.9,681.7 346.9,678.5 351.9,679.4 356.9,680.4 361.9,679.1 366.9,683.6 371.9,686.8 376.9,693.8 381.9,694.5 386.9,691.3 391.9,685.5 396.9,679.1 401.9,675.9 406.9,683.2 411.9,685.5 416.9,676.5 421.9,676.9 426.9,665.0 431.9,655.0 436.9,659.6 441.9,659.3 446.9,661.2 451.9,656.4 456.9,658.9 461.9,661.4 466.9,663.1 471.9,663.1 476.9,654.4 481.9,658.0 486.9,656.1 491.9,644.3 496.9,645.2 501.9,650.9 506.9,662.7 511.9,669.1 516.9,669.1 521.9,673.1 526.9,680.4 531.9,687.4 536.9,687.0 541.9,682.6 546.9,674.9 551.9,674.6 556.9,673.6 561.9,679.7 566.9,669.9 571.9,664.8 576.9,661.8 581.9,646.5 586.9,650.7 591.9,651.2 596.9,651.6 601.9,646.5 606.9,641.7 611.9,636.2 616.9,633.7 621.9,641.7 626.9,639.7 631.9,634.1 636.9,638.4 641.9,636.2 646.9,632.0 651.9,641.0 656.9,643.0 661.9,647.7 666.9,644.5 671.9,644.3 676.9,650.9 681.9,668.2 686.9,672.3 691.9,674.0 696.9,675.5 701.9,672.1 706.9,676.5 711.9,666.9 716.9,659.3 721.9,654.1 726.9,648.1 731.9,642.2 736.9,643.0 741.9,658.4 746.9,657.6 751.9,660.9 756.9,658.9 761.9,663.7 766.9,651.8 771.9,653.1 776.9,647.7 781.9,637.5 786.9,638.4 791.9,646.7 796.9,644.3 801.9,643.3 806.9,644.3 811.9,630.7 816.9,625.6 821.9,626.4 826.9,632.4 830.9,628.9 835.9,625.6 840.9,627.5 845.9,623.4 850.9,627.5 855.9,626.0 860.9,620.5 865.9,624.3 870.9,623.4 875.9,620.5 880.9,620.0 885.9,619.6 890.9,619.6 895.9,617.9 900.9,639.7 905.9,634.1 910.9,634.1 915.9,636.5 920.9,630.2 925.9,631.5 930.9,630.2 935.9,623.8 940.9,622.2 945.9,620.0 950.9,619.2 955.9,617.4 960.9,621.5 965.9,625.6 970.9,623.8 975.9,623.4 980.9,629.8 985.9,629.8 990.9,654.4 995.9,647.7 1000.9,660.2 1005.9,663.7 1010.9,665.4 1015.9,673.1 1020.9,676.5 1025.9,671.8 1030.9,662.1 1035.9,661.6 1040.9,662.2 1045.9,652.0 1050.9,649.7 1055.9,646.5 1060.9,643.5 1065.9,637.8 1070.9,642.6 1075.9,648.1 1080.9,640.1 1085.9,632.0 1090.9,648.1 1095.9,644.5 1100.9,644.5 1105.9,647.7 1110.9,650.7 1115.9,661.8 1120.9,666.3 1125.9,671.4 1130.9,661.4 1135.9,662.7 1140.9,666.9 1145.9,668.5 1150.9,678.5 1155.9,658.0 1160.9,658.2 1165.9,658.4 1170.9,652.2 1175.9,648.0 1180.9,649.0 1185.9,657.3 1190.9,654.1 1195.9,652.2 1200.9,652.0 1205.9,649.7 1210.9,654.8 1215.9,655.0 1220.9,663.5 1225.9,666.3 1230.9,664.0 1235.9,659.6 1240.9,670.1 1245.9,675.5 1250.9,660.9 1255.9,667.6 1260.9,665.9 1265.9,668.0 1270.9,663.1 1275.9,664.6 1280.9,658.6 1285.9,657.7 1290.9,654.1 1295.9,639.4 1300.9,654.4 1305.9,672.7 1310.9,681.3 1315.9,683.3 1320.9,689.3 1325.9,684.0 1330.9,690.9 1335.9,694.8 1340.9,687.4 1345.9,684.0 1350.9,682.0 1355.9,681.4 1360.9,679.1 1365.9,677.2 1370.9,666.9 1375.9,668.6 1380.9,666.3 1385.9,675.5 1390.9,669.9 1395.9,660.5 1400.9,660.2 1405.9,661.4 1410.9,665.3 1415.9,666.0 1420.9,673.6 1425.9,655.4 1430.9,649.0"/>
<polyline fill="none" stroke="#ff0000" stroke-width="3.5" stroke-linejoin="round" stroke-linecap="round" points="17.9,632.0 22.9,633.7 27.9,632.8 32.9,634.1"/>
<polyline fill="none" stroke="#ff0000" stroke-width="3.5" stroke-linejoin="round" stroke-linecap="round" points="376.9,693.8 381.9,694.5 386.9,691.3"/>
<line x1="615.7" y1="633.7" x2="618.1" y2="633.7" stroke="#ff0000" stroke-width="3.5" stroke-linecap="round"/>
<line x1="630.7" y1="634.1" x2="633.1" y2="634.1" stroke="#ff0000" stroke-width="3.5" stroke-linecap="round"/>
<line x1="645.7" y1="632.0" x2="648.1" y2="632.0" stroke="#ff0000" stroke-width="3.5" stroke-linecap="round"/>
<polyline fill="none" stroke="#ff0000" stroke-width="3.5" stroke-linejoin="round" stroke-linecap="round" points="811.9,630.7 816.9,625.6 821.9,626.4 826.9,632.4 830.9,628.9 835.9,625.6 840.9,627.5 845.9,623.4 850.9,627.5 855.9,626.0 860.9,620.5 865.9,624.3 870.9,623.4 875.9,620.5 880.9,620.0 885.9,619.6 890.9,619.6 895.9,617.9"/>
<polyline fill="none" stroke="#ff0000" stroke-width="3.5" stroke-linejoin="round" stroke-linecap="round" points="905.9,634.1 910.9,634.1"/>
<polyline fill="none" stroke="#ff0000" stroke-width="3.5" stroke-linejoin="round" stroke-linecap="round" points="920.9,630.2 925.9,631.5 930.9,630.2 935.9,623.8 940.9,622.2 945.9,620.0 950.9,619.2 955.9,617.4 960.9,621.5 965.9,625.6 970.9,623.8 975.9,623.4 980.9,629.8 985.9,629.8"/>
<line x1="1084.7" y1="632.0" x2="1087.1" y2="632.0" stroke="#ff0000" stroke-width="3.5" stroke-linecap="round"/>
<polyline fill="none" stroke="#ff0000" stroke-width="3.5" stroke-linejoin="round" stroke-linecap="round" points="1330.9,690.9 1335.9,694.8"/>
<rect x="1488.2" y="39.1" width="58.3" height="32.3" rx="5" ry="5" fill="#fff" stroke="#eceef2" stroke-width="1"/>
<path d="M13 763.7 H22.8 V775.9 H17.9 V768.6 H13 Z" fill="#111"/>
<circle cx="26.8" cy="766.5" r="2.85" fill="#111"/>
<path d="M32.0 763.7 H37.6 L32.6 775.9 H27.0 Z" fill="#111"/>
<text x="12.55" y="24.80" font-size="15.3" textLength="50.20" lengthAdjust="spacingAndGlyphs" fill="#161616">eladlad</text>
<text x="67.00" y="24.80" font-size="15.3" textLength="64.00" lengthAdjust="spacingAndGlyphs" fill="#161616">published</text>
<text x="135.70" y="24.80" font-size="15.3" textLength="16.40" lengthAdjust="spacingAndGlyphs" fill="#161616">on</text>
<text x="156.00" y="24.80" font-size="15.3" textLength="118.45" lengthAdjust="spacingAndGlyphs" fill="#161616">TradingView.com,</text>
<text x="279.70" y="24.80" font-size="15.3" textLength="23.70" lengthAdjust="spacingAndGlyphs" fill="#161616">Apr</text>
<text x="307.40" y="24.80" font-size="15.3" textLength="20.30" lengthAdjust="spacingAndGlyphs" fill="#161616">23,</text>
<text x="333.10" y="24.80" font-size="15.3" textLength="31.70" lengthAdjust="spacingAndGlyphs" fill="#161616">2025</text>
<text x="369.90" y="24.80" font-size="15.3" textLength="35.10" lengthAdjust="spacingAndGlyphs" fill="#161616">10:31</text>
<text x="411.10" y="24.80" font-size="15.3" textLength="42.90" lengthAdjust="spacingAndGlyphs" fill="#161616">UTC+3</text>
<text x="23.40" y="58.70" font-size="15.5" textLength="43.50" lengthAdjust="spacingAndGlyphs" fill="#131722">DANEL</text>
<text x="81.10" y="58.70" font-size="15.5" textLength="17.30" lengthAdjust="spacingAndGlyphs" fill="#131722">1D</text>
<text x="113.30" y="58.70" font-size="15.5" textLength="30.80" lengthAdjust="spacingAndGlyphs" fill="#131722">TASE</text>
<text x="152.70" y="58.70" font-size="15.5" textLength="10.20" lengthAdjust="spacingAndGlyphs" fill="#131722">O</text>
<text x="162.60" y="58.70" font-size="15.5" textLength="45.00" lengthAdjust="spacingAndGlyphs" fill="#26a69a">40,550</text>
<text x="216.80" y="58.70" font-size="15.5" textLength="9.70" lengthAdjust="spacingAndGlyphs" fill="#131722">H</text>
<text x="226.20" y="58.70" font-size="15.5" textLength="45.10" lengthAdjust="spacingAndGlyphs" fill="#26a69a">40,960</text>
<text x="280.50" y="58.70" font-size="15.5" textLength="8.30" lengthAdjust="spacingAndGlyphs" fill="#131722">L</text>
<text x="288.60" y="58.70" font-size="15.5" textLength="44.40" lengthAdjust="spacingAndGlyphs" fill="#26a69a">40,540</text>
<text x="342.00" y="58.70" font-size="15.5" textLength="8.80" lengthAdjust="spacingAndGlyphs" fill="#131722">C</text>
<text x="351.00" y="58.70" font-size="15.5" textLength="45.30" lengthAdjust="spacingAndGlyphs" fill="#26a69a">40,960</text>
<text x="404.70" y="58.70" font-size="15.5" textLength="31.40" lengthAdjust="spacingAndGlyphs" fill="#26a69a">+960</text>
<text x="441.20" y="58.70" font-size="15.5" textLength="56.80" lengthAdjust="spacingAndGlyphs" fill="#26a69a">(+2.40%)</text>
<text x="507.00" y="58.70" font-size="15.5" textLength="19.80" lengthAdjust="spacingAndGlyphs" fill="#131722">Vol</text>
<text x="527.60" y="58.70" font-size="15.5" textLength="23.20" lengthAdjust="spacingAndGlyphs" fill="#26a69a">134</text>
<text x="22.80" y="79.60" font-size="15.5" textLength="89.60" lengthAdjust="spacingAndGlyphs" fill="#131722">Vol loading...</text>
<text x="22.70" y="632.00" font-size="15.5" textLength="169.20" lengthAdjust="spacingAndGlyphs" fill="#131722">Better RSI (14, close, 50)</text>
<text x="200.40" y="632.00" font-size="15.5" textLength="29.70" lengthAdjust="spacingAndGlyphs" fill="#000">59.0</text>
<text x="239.40" y="632.00" font-size="15.5" textLength="9.20" lengthAdjust="spacingAndGlyphs" fill="#131722">ø</text>
<text x="257.90" y="632.00" font-size="15.5" textLength="29.50" lengthAdjust="spacingAndGlyphs" fill="#ff0000">50.0</text>
<text x="1493.40" y="556.90" font-size="15.5" textLength="46.80" lengthAdjust="spacingAndGlyphs" fill="#131722">28,000</text>
<text x="1493.40" y="502.90" font-size="15.5" textLength="46.80" lengthAdjust="spacingAndGlyphs" fill="#131722">30,000</text>
<text x="1493.40" y="447.90" font-size="15.5" textLength="46.80" lengthAdjust="spacingAndGlyphs" fill="#131722">32,000</text>
<text x="1493.40" y="393.90" font-size="15.5" textLength="46.80" lengthAdjust="spacingAndGlyphs" fill="#131722">34,000</text>
<text x="1493.40" y="339.90" font-size="15.5" textLength="46.80" lengthAdjust="spacingAndGlyphs" fill="#131722">36,000</text>
<text x="1493.40" y="284.90" font-size="15.5" textLength="46.80" lengthAdjust="spacingAndGlyphs" fill="#131722">38,000</text>
<text x="1493.40" y="230.90" font-size="15.5" textLength="46.80" lengthAdjust="spacingAndGlyphs" fill="#131722">40,000</text>
<text x="1493.40" y="176.90" font-size="15.5" textLength="46.80" lengthAdjust="spacingAndGlyphs" fill="#131722">42,000</text>
<text x="1493.40" y="121.90" font-size="15.5" textLength="46.80" lengthAdjust="spacingAndGlyphs" fill="#131722">44,000</text>
<text x="1493.80" y="625.90" font-size="15.5" textLength="30.00" lengthAdjust="spacingAndGlyphs" fill="#131722">80.0</text>
<text x="1493.80" y="680.90" font-size="15.5" textLength="30.00" lengthAdjust="spacingAndGlyphs" fill="#131722">40.0</text>
<text x="1499.10" y="60.10" font-size="15.5" textLength="21.70" lengthAdjust="spacingAndGlyphs" fill="#131722">ILA</text>
<text x="14.40" y="736.00" font-size="15.5" textLength="25.20" lengthAdjust="spacingAndGlyphs" fill="#131722">Mar</text>
<text x="115.40" y="736.00" font-size="15.5" textLength="23.70" lengthAdjust="spacingAndGlyphs" fill="#131722">Apr</text>
<text x="203.40" y="736.00" font-size="15.5" textLength="27.20" lengthAdjust="spacingAndGlyphs" fill="#131722">May</text>
<text x="305.40" y="736.00" font-size="15.5" textLength="23.70" lengthAdjust="spacingAndGlyphs" fill="#131722">Jun</text>
<text x="401.90" y="736.00" font-size="15.5" textLength="20.20" lengthAdjust="spacingAndGlyphs" fill="#131722">Jul</text>
<text x="514.40" y="736.00" font-size="15.5" textLength="25.20" lengthAdjust="spacingAndGlyphs" fill="#131722">Aug</text>
<text x="614.40" y="736.00" font-size="15.5" textLength="24.70" lengthAdjust="spacingAndGlyphs" fill="#131722">Sep</text>
<text x="724.40" y="736.00" font-size="15.5" textLength="23.70" lengthAdjust="spacingAndGlyphs" fill="#131722">Oct</text>
<text x="808.90" y="736.00" font-size="15.5" textLength="26.20" lengthAdjust="spacingAndGlyphs" fill="#131722">Nov</text>
<text x="908.90" y="736.00" font-size="15.5" textLength="25.20" lengthAdjust="spacingAndGlyphs" fill="#131722">Dec</text>
<text x="1133.90" y="736.00" font-size="15.5" textLength="24.70" lengthAdjust="spacingAndGlyphs" fill="#131722">Feb</text>
<text x="1233.90" y="736.00" font-size="15.5" textLength="25.20" lengthAdjust="spacingAndGlyphs" fill="#131722">Mar</text>
<text x="1343.90" y="736.00" font-size="15.5" textLength="23.70" lengthAdjust="spacingAndGlyphs" fill="#131722">Apr</text>
<text x="1442.40" y="736.00" font-size="15.5" textLength="26.70" lengthAdjust="spacingAndGlyphs" fill="#131722">May</text>
<text x="1018.90" y="736.00" font-size="15.5" textLength="35.20" lengthAdjust="spacingAndGlyphs" fill="#131722" font-weight="700">2025</text>
<text x="41.30" y="775.90" font-size="15.5" textLength="89.10" lengthAdjust="spacingAndGlyphs" fill="#111">TradingView</text>
<text x="73.55" y="60.63" font-size="22" text-anchor="middle" fill="#131722">·</text>
<text x="105.05" y="60.63" font-size="22" text-anchor="middle" fill="#131722">·</text>
<path d="M1484 81.0 H1544 a2 2 0 0 1 2 2 V100.0 a2 2 0 0 1 -2 2 H1484 Z" fill="#2962ff"/>
<path d="M1484 231.0 H1544 a2 2 0 0 1 2 2 V250.0 a2 2 0 0 1 -2 2 H1484 Z" fill="#2962ff"/>
<path d="M1484 330.0 H1544 a2 2 0 0 1 2 2 V349.0 a2 2 0 0 1 -2 2 H1484 Z" fill="#2962ff"/>
<text x="1494.40" y="95.90" font-size="15.5" textLength="46.20" lengthAdjust="spacingAndGlyphs" fill="#fff">44,980</text>
<text x="1494.40" y="245.90" font-size="15.5" textLength="46.20" lengthAdjust="spacingAndGlyphs" fill="#fff">39,460</text>
<text x="1494.40" y="344.90" font-size="15.5" textLength="46.20" lengthAdjust="spacingAndGlyphs" fill="#fff">35,820</text>
</svg>
</body></html>
